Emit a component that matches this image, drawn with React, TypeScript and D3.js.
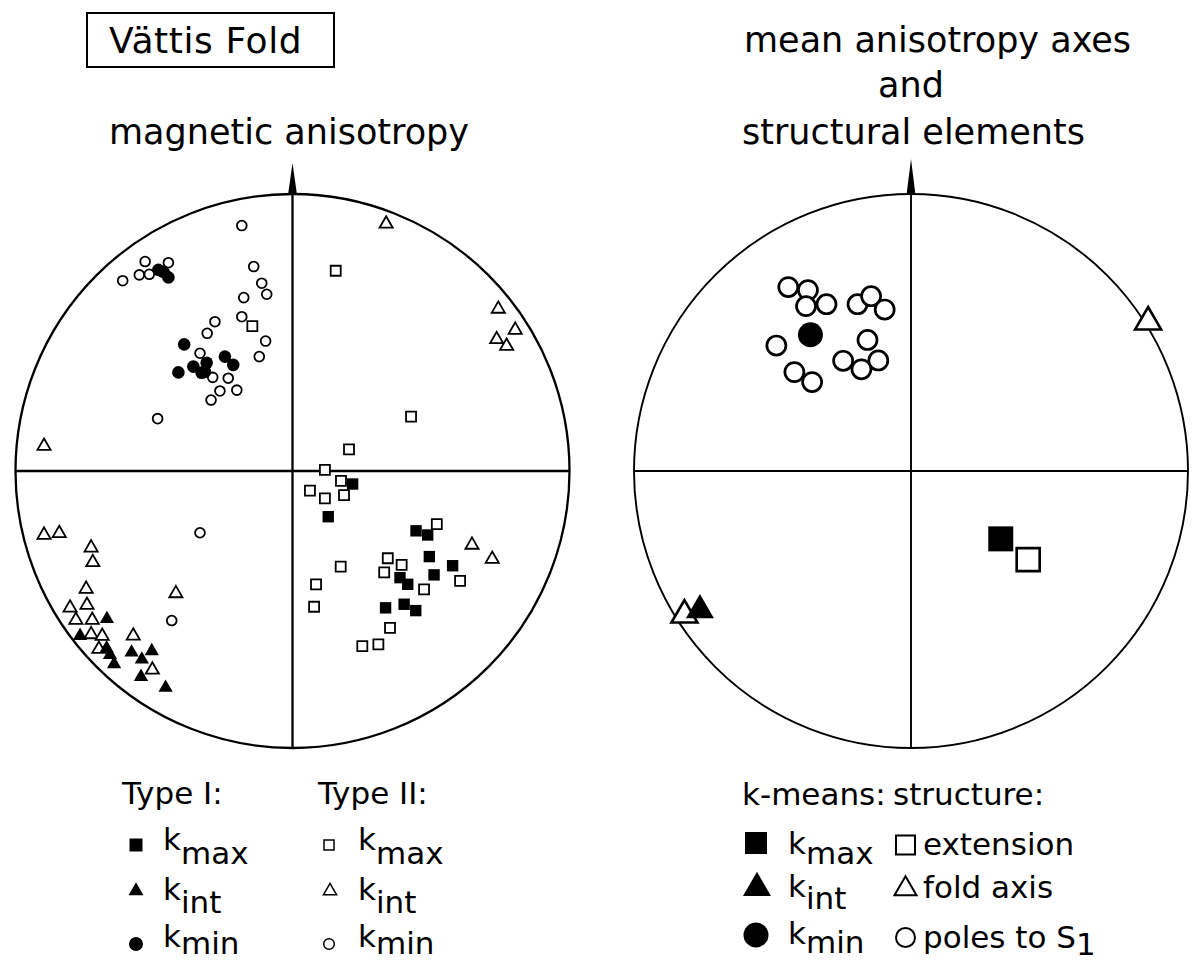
import * as d3 from "d3";

type Pt = [number, number];

// normalised stereonet coordinates: x east, y north, unit circle = primitive
const type1Kmax: Pt[] = [
  [0.217, -0.047], [0.129, -0.165], [0.446, -0.216], [0.488, -0.231],
  [0.494, -0.309], [0.511, -0.375], [0.578, -0.342], [0.388, -0.385],
  [0.416, -0.409], [0.336, -0.494], [0.403, -0.481], [0.445, -0.504],
];
const type1Kint: Pt[] = [
  [-0.67, -0.534], [-0.767, -0.595], [-0.671, -0.64], [-0.659, -0.664],
  [-0.644, -0.697], [-0.581, -0.655], [-0.508, -0.65], [-0.544, -0.68],
  [-0.547, -0.743], [-0.458, -0.782],
];
const type1Kmin: Pt[] = [
  [-0.484, 0.726], [-0.466, 0.719], [-0.448, 0.699], [-0.391, 0.457],
  [-0.412, 0.356], [-0.358, 0.377], [-0.328, 0.355], [-0.31, 0.391],
  [-0.244, 0.413], [-0.214, 0.383], [-0.316, 0.358],
];
const type2Kmax: Pt[] = [
  [-0.145, 0.523], [0.156, 0.723], [0.428, 0.196], [0.204, 0.078],
  [0.117, 0.004], [0.175, -0.036], [0.063, -0.071], [0.117, -0.099],
  [0.186, -0.087], [0.521, -0.192], [0.344, -0.315], [0.394, -0.339],
  [0.331, -0.366], [0.174, -0.345], [0.085, -0.409], [0.078, -0.49],
  [0.475, -0.427], [0.605, -0.397], [0.352, -0.566], [0.252, -0.632],
  [0.31, -0.626],
];
const type2Kint: Pt[] = [
  [-0.897, 0.09], [0.338, 0.892], [0.743, 0.585], [0.804, 0.509],
  [0.737, 0.475], [0.773, 0.451], [0.648, -0.267], [0.721, -0.318],
  [-0.897, -0.231], [-0.842, -0.225], [-0.727, -0.277], [-0.721, -0.33],
  [-0.745, -0.426], [-0.742, -0.484], [-0.803, -0.494], [-0.782, -0.538],
  [-0.723, -0.538], [-0.727, -0.59], [-0.687, -0.596], [-0.699, -0.643],
  [-0.421, -0.442], [-0.575, -0.595], [-0.506, -0.718],
];
const type2Kmin: Pt[] = [
  [-0.183, 0.886], [-0.532, 0.756], [-0.448, 0.752], [-0.553, 0.708],
  [-0.517, 0.71], [-0.613, 0.687], [-0.14, 0.738], [-0.111, 0.678],
  [-0.093, 0.638], [-0.176, 0.626], [-0.28, 0.539], [-0.183, 0.557],
  [-0.308, 0.497], [-0.097, 0.469], [-0.12, 0.413], [-0.334, 0.425],
  [-0.288, 0.338], [-0.232, 0.335], [-0.201, 0.292], [-0.262, 0.289],
  [-0.294, 0.256], [-0.487, 0.189], [-0.334, -0.223], [-0.436, -0.54],
];

const meanKmax: Pt[] = [[0.324, -0.245]];
const meanKint: Pt[] = [[-0.762, -0.502]];
const meanKmin: Pt[] = [[-0.363, 0.492]];
const extension: Pt[] = [[0.423, -0.32]];
const foldAxis: Pt[] = [[0.856, 0.538], [-0.818, -0.52]];
const polesS1: Pt[] = [
  [-0.443, 0.664], [-0.372, 0.653], [-0.379, 0.595], [-0.305, 0.602],
  [-0.193, 0.602], [-0.144, 0.631], [-0.095, 0.583], [-0.157, 0.473],
  [-0.118, 0.399], [-0.179, 0.367], [-0.245, 0.398], [-0.486, 0.453],
  [-0.421, 0.357], [-0.357, 0.321],
];

const FONT = "DejaVu Sans";

const shapes: Record<string, d3.SymbolType> = {
  square: d3.symbolSquare,
  triangle: d3.symbolTriangle,
  circle: d3.symbolCircle,
};

function sym(shape: string, size: number) {
  return d3.symbol().type(shapes[shape]).size(size)() as string;
}

function Marks(props: {
  data: Pt[];
  x: d3.ScaleLinear<number, number>;
  y: d3.ScaleLinear<number, number>;
  shape: string;
  size: number;
  filled: boolean;
  sw?: number;
}) {
  const { data, x, y, shape, size, filled, sw = 1.8 } = props;
  const d = sym(shape, size);
  return (
    <g>
      {data.map((p, i) => (
        <path
          key={i}
          d={d}
          transform={`translate(${x(p[0])},${y(p[1])})`}
          fill={filled ? "#000" : "#fff"}
          stroke="#000"
          strokeWidth={filled ? 0 : sw}
        />
      ))}
    </g>
  );
}

function Net(props: { cx: number; cy: number; r: number; sw: number; tipY: number; children: (x: any, y: any) => any }) {
  const { cx, cy, r, sw, tipY } = props;
  const x = d3.scaleLinear().domain([-1, 1]).range([cx - r, cx + r]);
  const y = d3.scaleLinear().domain([-1, 1]).range([cy + r, cy - r]);
  return (
    <g>
      <circle cx={cx} cy={cy} r={r} fill="none" stroke="#000" strokeWidth={sw} />
      <line x1={x(0)} x2={x(0)} y1={y(1)} y2={y(-1)} stroke="#000" strokeWidth={sw} />
      <line x1={x(-1)} x2={x(1)} y1={y(0)} y2={y(0)} stroke="#000" strokeWidth={sw} />
      <path d={`M${cx},${tipY} L${cx - 4.5},${y(1) + 1} L${cx + 4.5},${y(1) + 1} Z`} fill="#000" />
      {props.children(x, y)}
    </g>
  );
}

function LegendRow(props: { mx: number; my: number; shape: string; size: number; filled: boolean; sw?: number; tx: number; ty: number; main: string; sub?: string; dy: number }) {
  const { mx, my, shape, size, filled, sw = 1.6, tx, ty, main, sub, dy } = props;
  return (
    <g>
      <path d={sym(shape, size)} transform={`translate(${mx},${my})`} fill={filled ? "#000" : "#fff"} stroke="#000" strokeWidth={filled ? 0 : sw} />
      <text x={tx} y={ty} fontFamily={FONT} fontSize={31}>
        <tspan>{main}</tspan>
        {sub && <tspan dy={dy}>{sub}</tspan>}
      </text>
    </g>
  );
}

export default function App() {
  return (
    <svg width={1203} height={962} style={{ position: "absolute", left: 0, top: 0, background: "#fff" }}>
      {/* titles */}
      <rect x={87} y={13} width={247} height={54} fill="none" stroke="#000" strokeWidth={2} />
      <text x={109} y={53} fontFamily={FONT} fontSize={36} letterSpacing={0.6}>Vättis Fold</text>
      <text x={109} y={144} fontFamily={FONT} fontSize={35}>magnetic anisotropy</text>
      <text x={744} y={52} fontFamily={FONT} fontSize={35}>mean anisotropy axes</text>
      <text x={911} y={97} fontFamily={FONT} fontSize={35} textAnchor="middle">and</text>
      <text x={742} y={144} fontFamily={FONT} fontSize={35}>structural elements</text>

      {/* left net: individual samples */}
      <Net cx={292.5} cy={471} r={277} sw={2.3} tipY={163}>
        {(x: any, y: any) => (
          <g>
            <Marks data={type2Kmin} x={x} y={y} shape="circle" size={75} filled={false} />
            <Marks data={type2Kmax} x={x} y={y} shape="square" size={100} filled={false} />
            <Marks data={type2Kint} x={x} y={y} shape="triangle" size={75} filled={false} />
            <Marks data={type1Kmin} x={x} y={y} shape="circle" size={125} filled />
            <Marks data={type1Kmax} x={x} y={y} shape="square" size={130} filled />
            <Marks data={type1Kint} x={x} y={y} shape="triangle" size={88} filled />
          </g>
        )}
      </Net>

      {/* right net: means and structures */}
      <Net cx={911} cy={471} r={277} sw={1.9} tipY={159}>
        {(x: any, y: any) => (
          <g>
            <Marks data={polesS1} x={x} y={y} shape="circle" size={285} filled={false} sw={2.7} />
            <Marks data={extension} x={x} y={y} shape="square" size={529} filled={false} sw={2.6} />
            <Marks data={foldAxis} x={x} y={y} shape="triangle" size={292} filled={false} sw={2.6} />
            <Marks data={meanKmin} x={x} y={y} shape="circle" size={491} filled />
            <Marks data={meanKmax} x={x} y={y} shape="square" size={625} filled />
            <Marks data={meanKint} x={x} y={y} shape="triangle" size={339} filled />
          </g>
        )}
      </Net>

      {/* left legend */}
      <text x={122} y={804} fontFamily={FONT} fontSize={31}>Type I:</text>
      <text x={318} y={804} fontFamily={FONT} fontSize={31}>Type II:</text>
      <LegendRow mx={136} my={845} shape="square" size={169} filled tx={163} ty={850} main="k" sub="max" dy={14} />
      <LegendRow mx={136} my={891} shape="triangle" size={97} filled tx={163} ty={900} main="k" sub="int" dy={13} />
      <LegendRow mx={136} my={944} shape="circle" size={154} filled tx={163} ty={947} main="k" sub="min" dy={7} />
      <LegendRow mx={329} my={845} shape="square" size={100} filled={false} sw={1.5} tx={358} ty={850} main="k" sub="max" dy={14} />
      <LegendRow mx={330} my={891} shape="triangle" size={75} filled={false} sw={1.5} tx={358} ty={900} main="k" sub="int" dy={13} />
      <LegendRow mx={329} my={944} shape="circle" size={88} filled={false} sw={1.5} tx={358} ty={947} main="k" sub="min" dy={7} />

      {/* right legend */}
      <text x={742} y={805} fontFamily={FONT} fontSize={31}>k-means:</text>
      <text x={893} y={805} fontFamily={FONT} fontSize={31}>structure:</text>
      <LegendRow mx={756} my={843} shape="square" size={484} filled tx={788} ty={854} main="k" sub="max" dy={10} />
      <LegendRow mx={757} my={888} shape="triangle" size={339} filled tx={788} ty={897} main="k" sub="int" dy={12} />
      <LegendRow mx={756} my={935} shape="circle" size={491} filled tx={788} ty={944} main="k" sub="min" dy={9} />
      <LegendRow mx={905.5} my={845} shape="square" size={361} filled={false} sw={2} tx={923} ty={855} main="extension" dy={0} />
      <LegendRow mx={905.5} my={889} shape="triangle" size={210} filled={false} sw={2} tx={923} ty={898} main="fold axis" dy={0} />
      <LegendRow mx={905.5} my={937.5} shape="circle" size={283} filled={false} sw={2} tx={923} ty={948} main="poles to S" sub="1" dy={7} />
    </svg>
  );
}
